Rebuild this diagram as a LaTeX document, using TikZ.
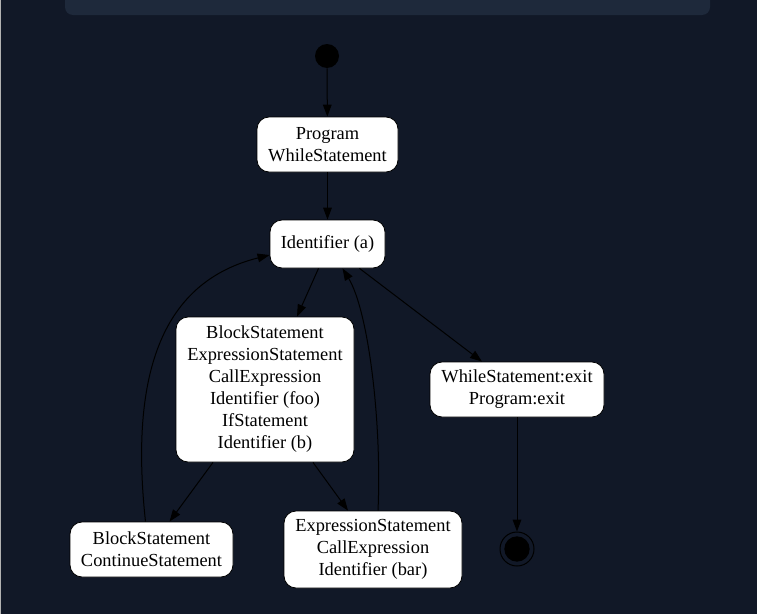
\documentclass[tikz,border=0pt]{standalone}
\usepackage{fontspec}
\setmainfont{Liberation Serif}
\usetikzlibrary{arrows.meta,calc}
\definecolor{bgc}{HTML}{111827}
\definecolor{panelc}{HTML}{1E293B}
\begin{document}
\begin{tikzpicture}[x=0.75pt,y=-0.75pt,
  st/.style={draw=black,fill=white,rounded corners=9pt,align=center,font=\fontsize{13.8}{16.5}\selectfont,inner sep=0pt,line width=0.6pt},
  arr/.style={draw=black,line width=0.75pt,-{Triangle[length=9pt,width=6.5pt]}}]
\fill[bgc] (0,0) rectangle (757,614);
\useasboundingbox (0,0) rectangle (757,614);
\begin{scope}
\clip (0,0) rectangle (757,614);
\fill[panelc,rounded corners=6pt] (65,-20) rectangle (710,15);
\end{scope}
\draw[gray!60,line width=0.5pt] (0.3,0) -- (0.3,614);
\node[circle,fill=black,minimum size=18pt,inner sep=0pt] (start) at (327,56) {};
\node[st,minimum width=105.75pt,minimum height=41.25pt] (prog) at (327.5,144.5) {Program\\WhileStatement};
\node[st,minimum width=86.25pt,minimum height=36pt] (ida) at (327.5,244) {Identifier (a)};
\node[st,minimum width=133.5pt,minimum height=108.75pt] (blk) at (265,389.5) {BlockStatement\\ExpressionStatement\\CallExpression\\Identifier (foo)\\IfStatement\\Identifier (b)};
\node[st,minimum width=130.5pt,minimum height=41.25pt] (wex) at (517,389.5) {WhileStatement:exit\\Program:exit};
\node[st,minimum width=122.25pt,minimum height=41.25pt] (cont) at (151.5,549.5) {BlockStatement\\ContinueStatement};
\node[st,minimum width=133.5pt,minimum height=57.75pt] (bar) at (373,549.5) {ExpressionStatement\\CallExpression\\Identifier (bar)};
\node[circle,draw=black,line width=0.75pt,minimum size=25.5pt,inner sep=0pt] (end) at (517,549) {};
\node[circle,fill=black,minimum size=19pt,inner sep=0pt] at (end) {};
\draw[arr] (start) -- (prog);
\draw[arr] (prog) -- (ida);
\draw[arr] ($(ida.south)+(-9,0)$) -- ($(blk.north)+(32,0)$);
\draw[arr] ($(ida.south)+(32,0)$) -- ($(wex.north)+(-35,0)$);
\draw[arr] ($(blk.south)+(-52,0)$) -- ($(cont.north)+(18,0)$);
\draw[arr] ($(blk.south)+(48,0)$) -- ($(bar.north)+(-25,0)$);
\draw[arr] ($(cont.north)+(-6,0)$) .. controls (128,360) and (170,280) .. ($(ida.west)+(0,11)$);
\draw[arr] ($(bar.north)+(5,0)$) .. controls (382,420) and (368,310) .. ($(ida.south)+(15,0)$);
\draw[arr] (wex) -- (end);
\end{tikzpicture}
\end{document}
